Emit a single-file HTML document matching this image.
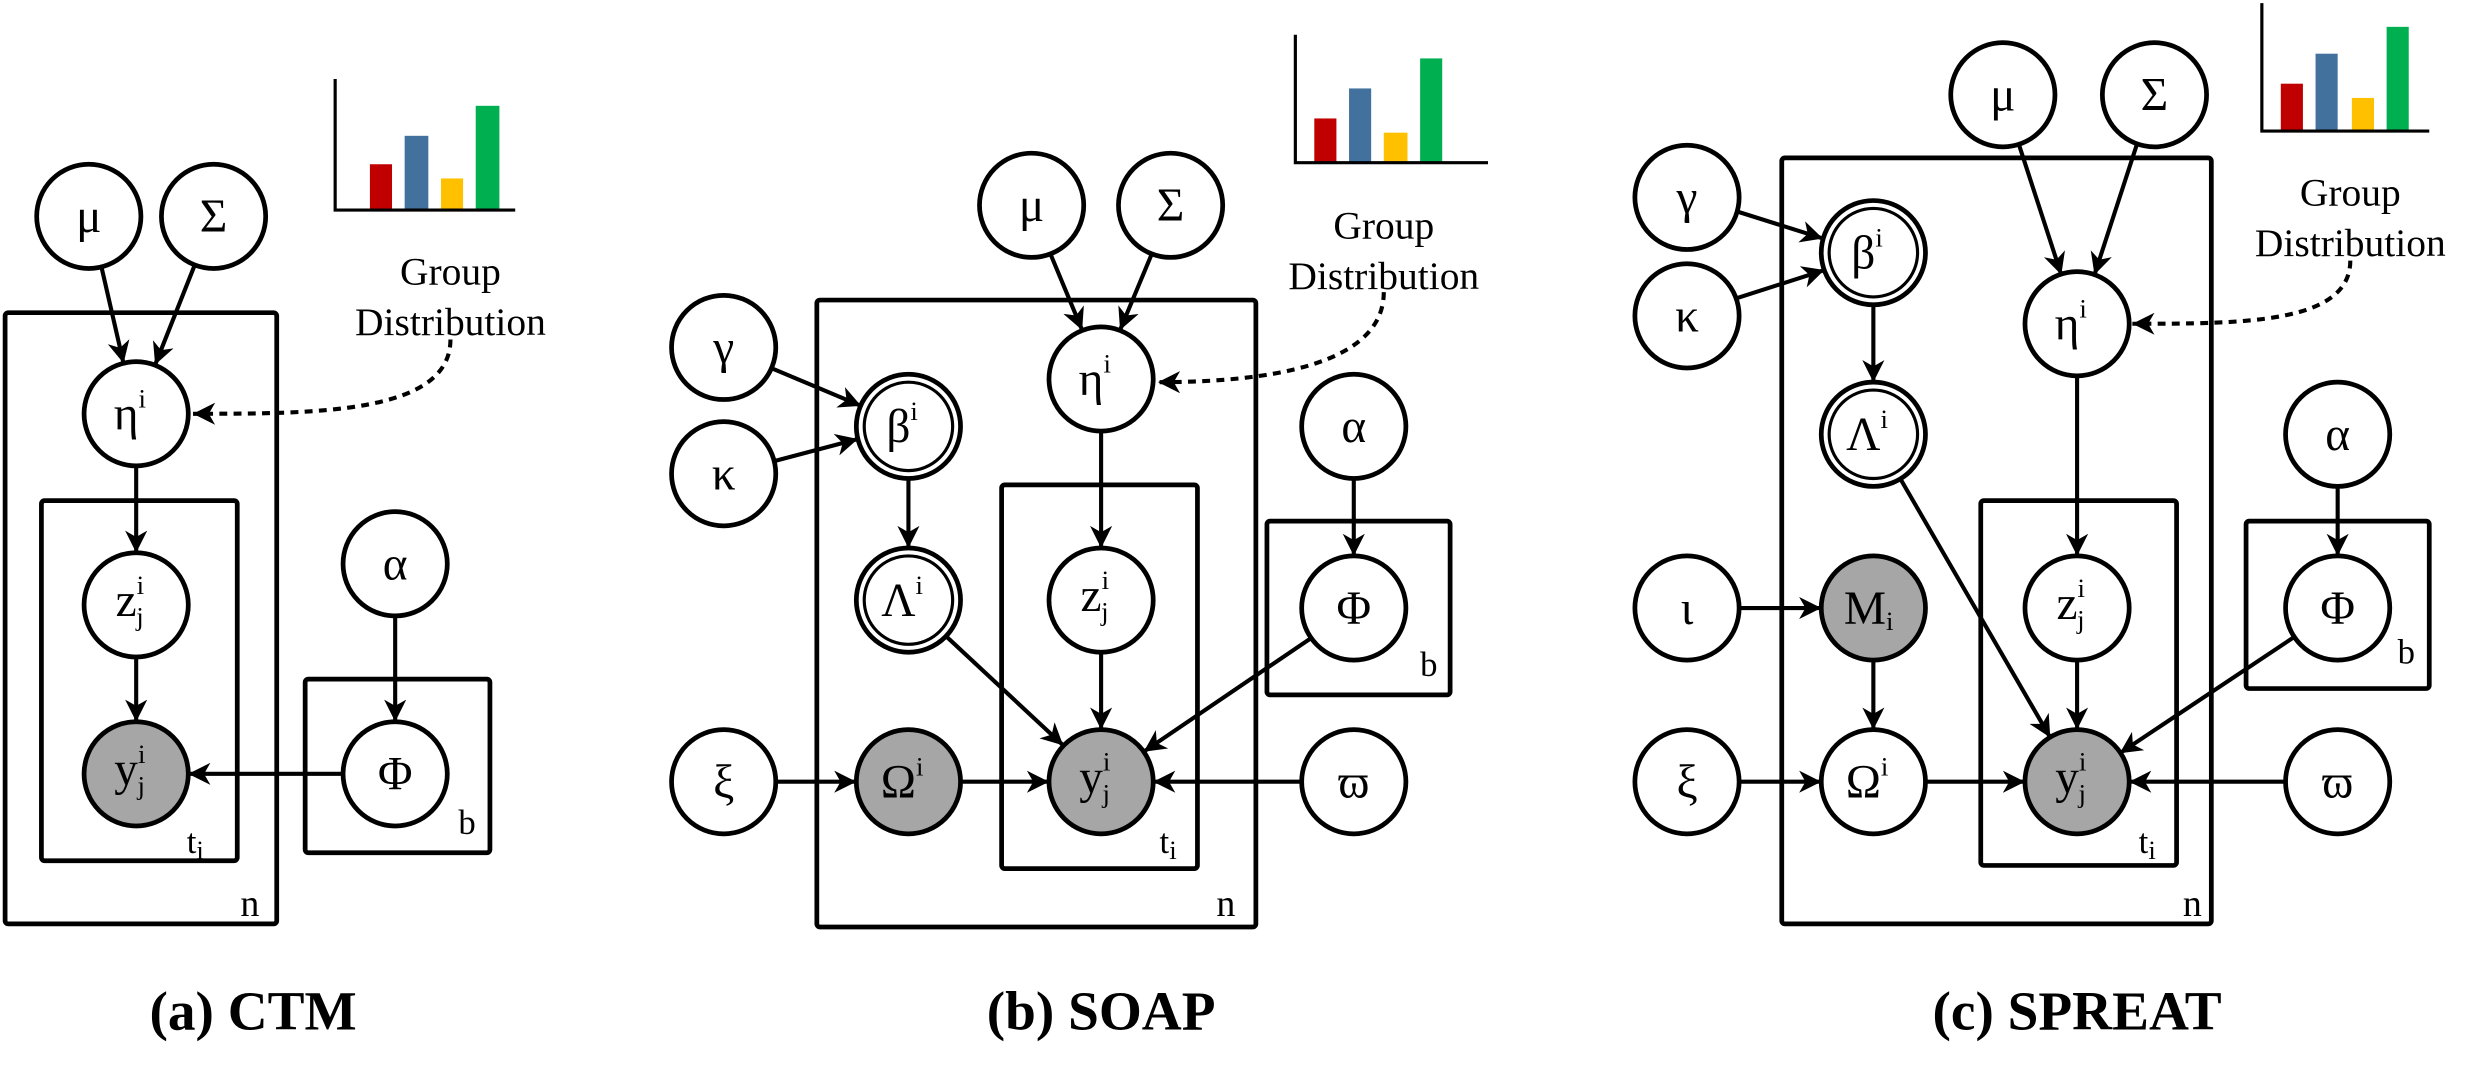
<!DOCTYPE html>
<html><head><meta charset="utf-8"><style>
html,body{margin:0;padding:0;background:#fff;width:2477px;height:1066px;overflow:hidden}
svg{display:block}
text{font-family:"Liberation Serif","DejaVu Serif",serif;fill:#000}
.n{fill:#fff;stroke:#000;stroke-width:3}
.g{fill:#a6a6a6;stroke:#000;stroke-width:3}
.p{fill:none;stroke:#000;stroke-width:3}
.e{stroke:#000;stroke-width:2.6;fill:none}
.l{font-size:30px;text-anchor:middle}
.s{font-size:17px}
.cap{font-size:35px;font-weight:bold;text-anchor:middle}
.gd{font-size:25px;text-anchor:middle}
</style></head><body>
<svg width="2477" height="1066" viewBox="0 0 1568 675" xmlns="http://www.w3.org/2000/svg">
<defs>
<marker id="a" markerUnits="userSpaceOnUse" markerWidth="16" markerHeight="14" refX="14" refY="7" orient="auto">
<path d="M0,0 L14,7 L0,14 L4,7 z" fill="#000"/></marker>
</defs>

<!-- ===== Panel A ===== -->
<rect class="p" x="3" y="198" width="172" height="387" rx="2"/>
<rect class="p" x="26" y="317" width="124" height="228" rx="2"/>
<rect class="p" x="193" y="430" width="117" height="110" rx="2"/>
<text x="158" y="580" class="l" style="font-size:24px">n</text>
<text x="118" y="540" style="font-size:22px">t<tspan class="s" dy="4">i</tspan></text>
<text x="290" y="528" style="font-size:22px">b</text>
<rect x="234" y="104" width="14" height="29" fill="#c00000"/>
<rect x="256" y="86" width="15" height="47" fill="#41719c"/>
<rect x="279" y="113" width="14" height="20" fill="#ffc000"/>
<rect x="301" y="67" width="15" height="66" fill="#00b050"/>
<path d="M212,50 V133 H326" class="e" style="stroke-width:2"/>
<text x="285" y="180" class="gd">Group</text>
<text x="285" y="212" class="gd">Distribution</text>
<path d="M285,215 C285,262 200,262 122,262" class="e" stroke-dasharray="5,4" marker-end="url(#a)"/>
<g class="e">
<line x1="64" y1="169" x2="78" y2="230" marker-end="url(#a)"/>
<line x1="123" y1="168" x2="98" y2="231" marker-end="url(#a)"/>
<line x1="86" y1="295" x2="86" y2="350" marker-end="url(#a)"/>
<line x1="86" y1="416" x2="86" y2="457" marker-end="url(#a)"/>
<line x1="250" y1="390" x2="250" y2="457" marker-end="url(#a)"/>
<line x1="217" y1="490" x2="119" y2="490" marker-end="url(#a)"/>
</g>
<circle class="n" cx="56" cy="137" r="33"/><text x="56" y="147" class="l">μ</text>
<circle class="n" cx="135" cy="137" r="33"/><text x="135" y="147" class="l">Σ</text>
<circle class="n" cx="86" cy="262" r="33"/><text x="82" y="272" class="l">η<tspan class="s" dy="-14">i</tspan></text>
<circle class="n" cx="86" cy="383" r="33"/><text x="82" y="390" class="l">z<tspan class="s" dy="-14">i</tspan><tspan class="s" dx="-5" dy="20">j</tspan></text>
<circle class="g" cx="86" cy="490" r="33"/><text x="82" y="497" class="l">y<tspan class="s" dy="-14">i</tspan><tspan class="s" dx="-5" dy="20">j</tspan></text>
<circle class="n" cx="250" cy="357" r="33"/><text x="250" y="367" class="l">α</text>
<circle class="n" cx="250" cy="490" r="33"/><text x="250" y="500" class="l">Φ</text>
<text x="160" y="652" class="cap">(a) CTM</text>

<!-- ===== Panel B ===== -->
<rect class="p" x="517" y="190" width="278" height="397" rx="2"/>
<rect class="p" x="634" y="307" width="124" height="243" rx="2"/>
<rect class="p" x="802" y="330" width="116" height="110" rx="2"/>
<text x="776" y="580" class="l" style="font-size:24px">n</text>
<text x="734" y="540" style="font-size:22px">t<tspan class="s" dy="4">i</tspan></text>
<text x="899" y="428" style="font-size:22px">b</text>
<rect x="832" y="75" width="14" height="28" fill="#c00000"/>
<rect x="854" y="56" width="14" height="47" fill="#41719c"/>
<rect x="876" y="84" width="15" height="19" fill="#ffc000"/>
<rect x="899" y="37" width="14" height="66" fill="#00b050"/>
<path d="M820,22 V103 H942" class="e" style="stroke-width:2"/>
<text x="876" y="151" class="gd">Group</text>
<text x="876" y="183" class="gd">Distribution</text>
<path d="M876,185 C876,232 800,242 733,242" class="e" stroke-dasharray="5,4" marker-end="url(#a)"/>
<g class="e">
<line x1="665" y1="161" x2="685" y2="209" marker-end="url(#a)"/>
<line x1="729" y1="161" x2="709" y2="209" marker-end="url(#a)"/>
<line x1="488" y1="233" x2="545" y2="257" marker-end="url(#a)"/>
<line x1="490" y1="292" x2="543" y2="278" marker-end="url(#a)"/>
<line x1="575" y1="303" x2="575" y2="347" marker-end="url(#a)"/>
<line x1="491" y1="495" x2="542" y2="495" marker-end="url(#a)"/>
<line x1="608" y1="495" x2="664" y2="495" marker-end="url(#a)"/>
<line x1="697" y1="273" x2="697" y2="347" marker-end="url(#a)"/>
<line x1="697" y1="413" x2="697" y2="462" marker-end="url(#a)"/>
<line x1="599" y1="403" x2="673" y2="472" marker-end="url(#a)"/>
<line x1="830" y1="404" x2="724" y2="476" marker-end="url(#a)"/>
<line x1="857" y1="303" x2="857" y2="352" marker-end="url(#a)"/>
<line x1="824" y1="495" x2="730" y2="495" marker-end="url(#a)"/>
</g>
<circle class="n" cx="653" cy="130" r="33"/><text x="653" y="140" class="l">μ</text>
<circle class="n" cx="741" cy="130" r="33"/><text x="741" y="140" class="l">Σ</text>
<circle class="n" cx="458" cy="220" r="33"/><text x="458" y="230" class="l">γ</text>
<circle class="n" cx="458" cy="300" r="33"/><text x="458" y="310" class="l">κ</text>
<circle class="n" cx="458" cy="495" r="33"/><text x="458" y="505" class="l">ξ</text>
<circle class="n" cx="575" cy="270" r="33"/><circle class="n" cx="575" cy="270" r="28" style="stroke-width:2"/><text x="571" y="280" class="l">β<tspan class="s" dy="-14">i</tspan></text>
<circle class="n" cx="575" cy="380" r="33"/><circle class="n" cx="575" cy="380" r="28" style="stroke-width:2"/><text x="571" y="390" class="l">Λ<tspan class="s" dy="-14">i</tspan></text>
<circle class="g" cx="575" cy="495" r="33"/><text x="571" y="505" class="l">Ω<tspan class="s" dy="-14">i</tspan></text>
<circle class="n" cx="697" cy="240" r="33"/><text x="693" y="250" class="l">η<tspan class="s" dy="-14">i</tspan></text>
<circle class="n" cx="697" cy="380" r="33"/><text x="693" y="387" class="l">z<tspan class="s" dy="-14">i</tspan><tspan class="s" dx="-5" dy="20">j</tspan></text>
<circle class="g" cx="697" cy="495" r="33"/><text x="693" y="502" class="l">y<tspan class="s" dy="-14">i</tspan><tspan class="s" dx="-5" dy="20">j</tspan></text>
<circle class="n" cx="857" cy="270" r="33"/><text x="857" y="280" class="l">α</text>
<circle class="n" cx="857" cy="385" r="33"/><text x="857" y="395" class="l">Φ</text>
<circle class="n" cx="857" cy="495" r="33"/><text x="857" y="505" class="l">ϖ</text>
<text x="697" y="652" class="cap">(b) SOAP</text>

<!-- ===== Panel C ===== -->
<rect class="p" x="1128" y="100" width="272" height="485" rx="2"/>
<rect class="p" x="1254" y="317" width="124" height="231" rx="2"/>
<rect class="p" x="1422" y="330" width="116" height="106" rx="2"/>
<text x="1388" y="580" class="l" style="font-size:24px">n</text>
<text x="1354" y="540" style="font-size:22px">t<tspan class="s" dy="4">i</tspan></text>
<text x="1518" y="420" style="font-size:22px">b</text>
<rect x="1444" y="53" width="14" height="30" fill="#c00000"/>
<rect x="1466" y="34" width="14" height="49" fill="#41719c"/>
<rect x="1489" y="62" width="14" height="21" fill="#ffc000"/>
<rect x="1511" y="17" width="14" height="66" fill="#00b050"/>
<path d="M1432,2 V83 H1538" class="e" style="stroke-width:2"/>
<text x="1488" y="130" class="gd">Group</text>
<text x="1488" y="162" class="gd">Distribution</text>
<path d="M1488,165 C1488,205 1420,205 1350,205" class="e" stroke-dasharray="5,4" marker-end="url(#a)"/>
<g class="e">
<line x1="1278" y1="91" x2="1305" y2="174" marker-end="url(#a)"/>
<line x1="1353" y1="91" x2="1326" y2="174" marker-end="url(#a)"/>
<line x1="1100" y1="134" x2="1154" y2="151" marker-end="url(#a)"/>
<line x1="1099" y1="189" x2="1155" y2="171" marker-end="url(#a)"/>
<line x1="1186" y1="193" x2="1186" y2="242" marker-end="url(#a)"/>
<line x1="1101" y1="385" x2="1153" y2="385" marker-end="url(#a)"/>
<line x1="1186" y1="418" x2="1186" y2="462" marker-end="url(#a)"/>
<line x1="1101" y1="495" x2="1153" y2="495" marker-end="url(#a)"/>
<line x1="1219" y1="495" x2="1282" y2="495" marker-end="url(#a)"/>
<line x1="1315" y1="238" x2="1315" y2="352" marker-end="url(#a)"/>
<line x1="1315" y1="418" x2="1315" y2="462" marker-end="url(#a)"/>
<line x1="1203" y1="303" x2="1298" y2="467" marker-end="url(#a)"/>
<line x1="1453" y1="403" x2="1342" y2="477" marker-end="url(#a)"/>
<line x1="1480" y1="308" x2="1480" y2="352" marker-end="url(#a)"/>
<line x1="1447" y1="495" x2="1348" y2="495" marker-end="url(#a)"/>
</g>
<circle class="n" cx="1268" cy="60" r="33"/><text x="1268" y="70" class="l">μ</text>
<circle class="n" cx="1364" cy="60" r="33"/><text x="1364" y="70" class="l">Σ</text>
<circle class="n" cx="1068" cy="125" r="33"/><text x="1068" y="135" class="l">γ</text>
<circle class="n" cx="1068" cy="200" r="33"/><text x="1068" y="210" class="l">κ</text>
<circle class="n" cx="1068" cy="385" r="33"/><text x="1068" y="395" class="l">ι</text>
<circle class="n" cx="1068" cy="495" r="33"/><text x="1068" y="505" class="l">ξ</text>
<circle class="n" cx="1186" cy="160" r="33"/><circle class="n" cx="1186" cy="160" r="28" style="stroke-width:2"/><text x="1182" y="170" class="l">β<tspan class="s" dy="-14">i</tspan></text>
<circle class="n" cx="1186" cy="275" r="33"/><circle class="n" cx="1186" cy="275" r="28" style="stroke-width:2"/><text x="1182" y="285" class="l">Λ<tspan class="s" dy="-14">i</tspan></text>
<circle class="g" cx="1186" cy="385" r="33"/><text x="1183" y="395" class="l">M<tspan class="s" dy="4">i</tspan></text>
<circle class="n" cx="1186" cy="495" r="33"/><text x="1182" y="505" class="l">Ω<tspan class="s" dy="-14">i</tspan></text>
<circle class="n" cx="1315" cy="205" r="33"/><text x="1311" y="215" class="l">η<tspan class="s" dy="-14">i</tspan></text>
<circle class="n" cx="1315" cy="385" r="33"/><text x="1311" y="392" class="l">z<tspan class="s" dy="-14">i</tspan><tspan class="s" dx="-5" dy="20">j</tspan></text>
<circle class="g" cx="1315" cy="495" r="33"/><text x="1311" y="502" class="l">y<tspan class="s" dy="-14">i</tspan><tspan class="s" dx="-5" dy="20">j</tspan></text>
<circle class="n" cx="1480" cy="275" r="33"/><text x="1480" y="285" class="l">α</text>
<circle class="n" cx="1480" cy="385" r="33"/><text x="1480" y="395" class="l">Φ</text>
<circle class="n" cx="1480" cy="495" r="33"/><text x="1480" y="505" class="l">ϖ</text>
<text x="1315" y="652" class="cap">(c) SPREAT</text>
</svg>
</body></html>
